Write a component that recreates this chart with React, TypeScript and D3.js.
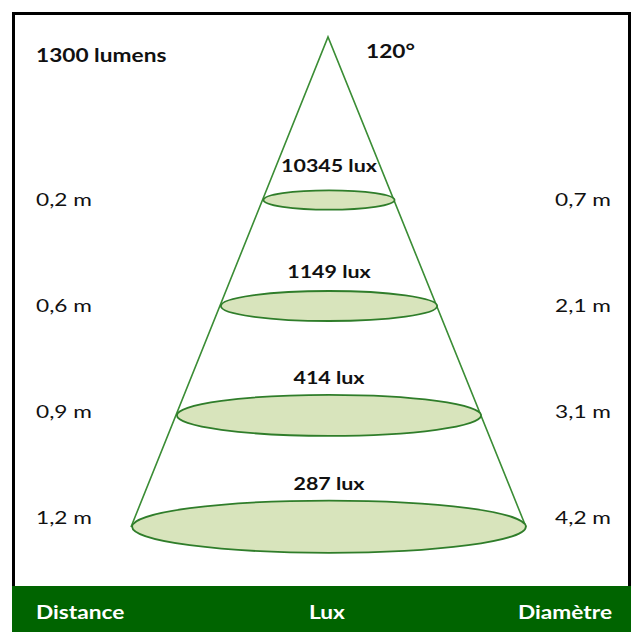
import React, { useEffect, useRef } from 'react';
import * as d3 from 'd3';

const distances = ['0,2 m', '0,6 m', '0,9 m', '1,2 m'];
const luxValues = [10345, 1149, 414, 287];
const diameters = ['0,7 m', '2,1 m', '3,1 m', '4,2 m'];
const lumens = '1300 lumens';
const beamAngle = '120°';
const footer = ['Distance', 'Lux', 'Diamètre'];

const App: React.FC = () => {
    const ref = useRef<SVGSVGElement | null>(null);

    useEffect(() => {
        if (!ref.current) return;
        const svg = d3.select(ref.current);
        svg.selectAll('*').remove();
        const width = 636;
        const height = 632;
        const font = 'Lato, "Open Sans", sans-serif';
        const stretch = 1.26; // the original text is set in a wider face
        const apex = { x: 328, y: 37 };
        const cx = 329;
        const baseY = 527;

        svg.attr('width', width).attr('height', height);

        const label = (x: number, y: number, txt: string, opts: { anchor?: string; bold?: boolean; size?: number; fill?: string } = {}) =>
            svg.append('text')
                .attr('transform', `translate(${x},${y}) scale(${stretch},1)`)
                .attr('text-anchor', opts.anchor || 'start')
                .attr('font-family', font)
                .attr('font-weight', opts.bold ? 'bold' : 'normal')
                .attr('font-size', opts.size || 18)
                .attr('fill', opts.fill || '#111')
                .text(txt);

        // frame
        svg.append('rect')
            .attr('x', 13.5).attr('y', 13.5)
            .attr('width', 616).attr('height', 640)
            .attr('fill', '#fff').attr('stroke', '#000').attr('stroke-width', 3);

        const row = d3.scalePoint<string>()
            .domain(distances)
            .range([200, 518]);

        // cone half-width grows linearly with distance from the apex
        const spread = d3.scaleLinear().domain([apex.y, baseY]).range([0, 197]);
        const flat = (rx: number) => rx * 0.125 + 1.5;

        const rings = distances.map((d, i) => {
            const r = row(d) as number;
            const cy = r + Math.max(0, flat(spread(r)) - 17);
            const rx = spread(cy);
            return { d, row: r, cy, rx, ry: flat(rx), lux: luxValues[i], diam: diameters[i] };
        });

        svg.append('path')
            .attr('d', d3.line()([
                [apex.x - spread(baseY), baseY],
                [apex.x, apex.y],
                [apex.x + spread(baseY) + 1, baseY],
            ]))
            .attr('fill', 'none')
            .attr('stroke', '#3b8d35')
            .attr('stroke-width', 1.6);

        svg.selectAll('.ring')
            .data(rings)
            .enter().append('ellipse')
            .attr('class', 'ring')
            .attr('cx', cx)
            .attr('cy', r => r.cy)
            .attr('rx', r => r.rx)
            .attr('ry', r => r.ry)
            .attr('fill', '#d8e4bc')
            .attr('stroke', '#2f7d2a')
            .attr('stroke-width', 1.8);

        rings.forEach(r => {
            label(cx, r.row - 28, `${r.lux} lux`, { anchor: 'middle', bold: true, size: 17 });
            label(36, r.row + 6, r.d);
            label(611, r.row + 6, r.diam, { anchor: 'end' });
        });

        label(36, 62, lumens, { bold: true });
        label(366, 58, beamAngle, { bold: true });

        // footer band
        svg.append('rect')
            .attr('x', 12).attr('y', 586)
            .attr('width', 619).attr('height', 50)
            .attr('fill', '#006400');

        const footerX = d3.scalePoint<string>().domain(footer).range([36, 612]);
        footer.forEach((f, i) => {
            const anchor = i === 0 ? 'start' : i === footer.length - 1 ? 'end' : 'middle';
            const x = f === 'Lux' ? 327 : (footerX(f) as number);
            label(x, 619, f, { anchor, bold: true, size: 18, fill: '#fff' });
        });
    }, []);

    return (
        <svg ref={ref} style={{ position: 'absolute', left: 0, top: 0 }} />
    );
};

export default App;
